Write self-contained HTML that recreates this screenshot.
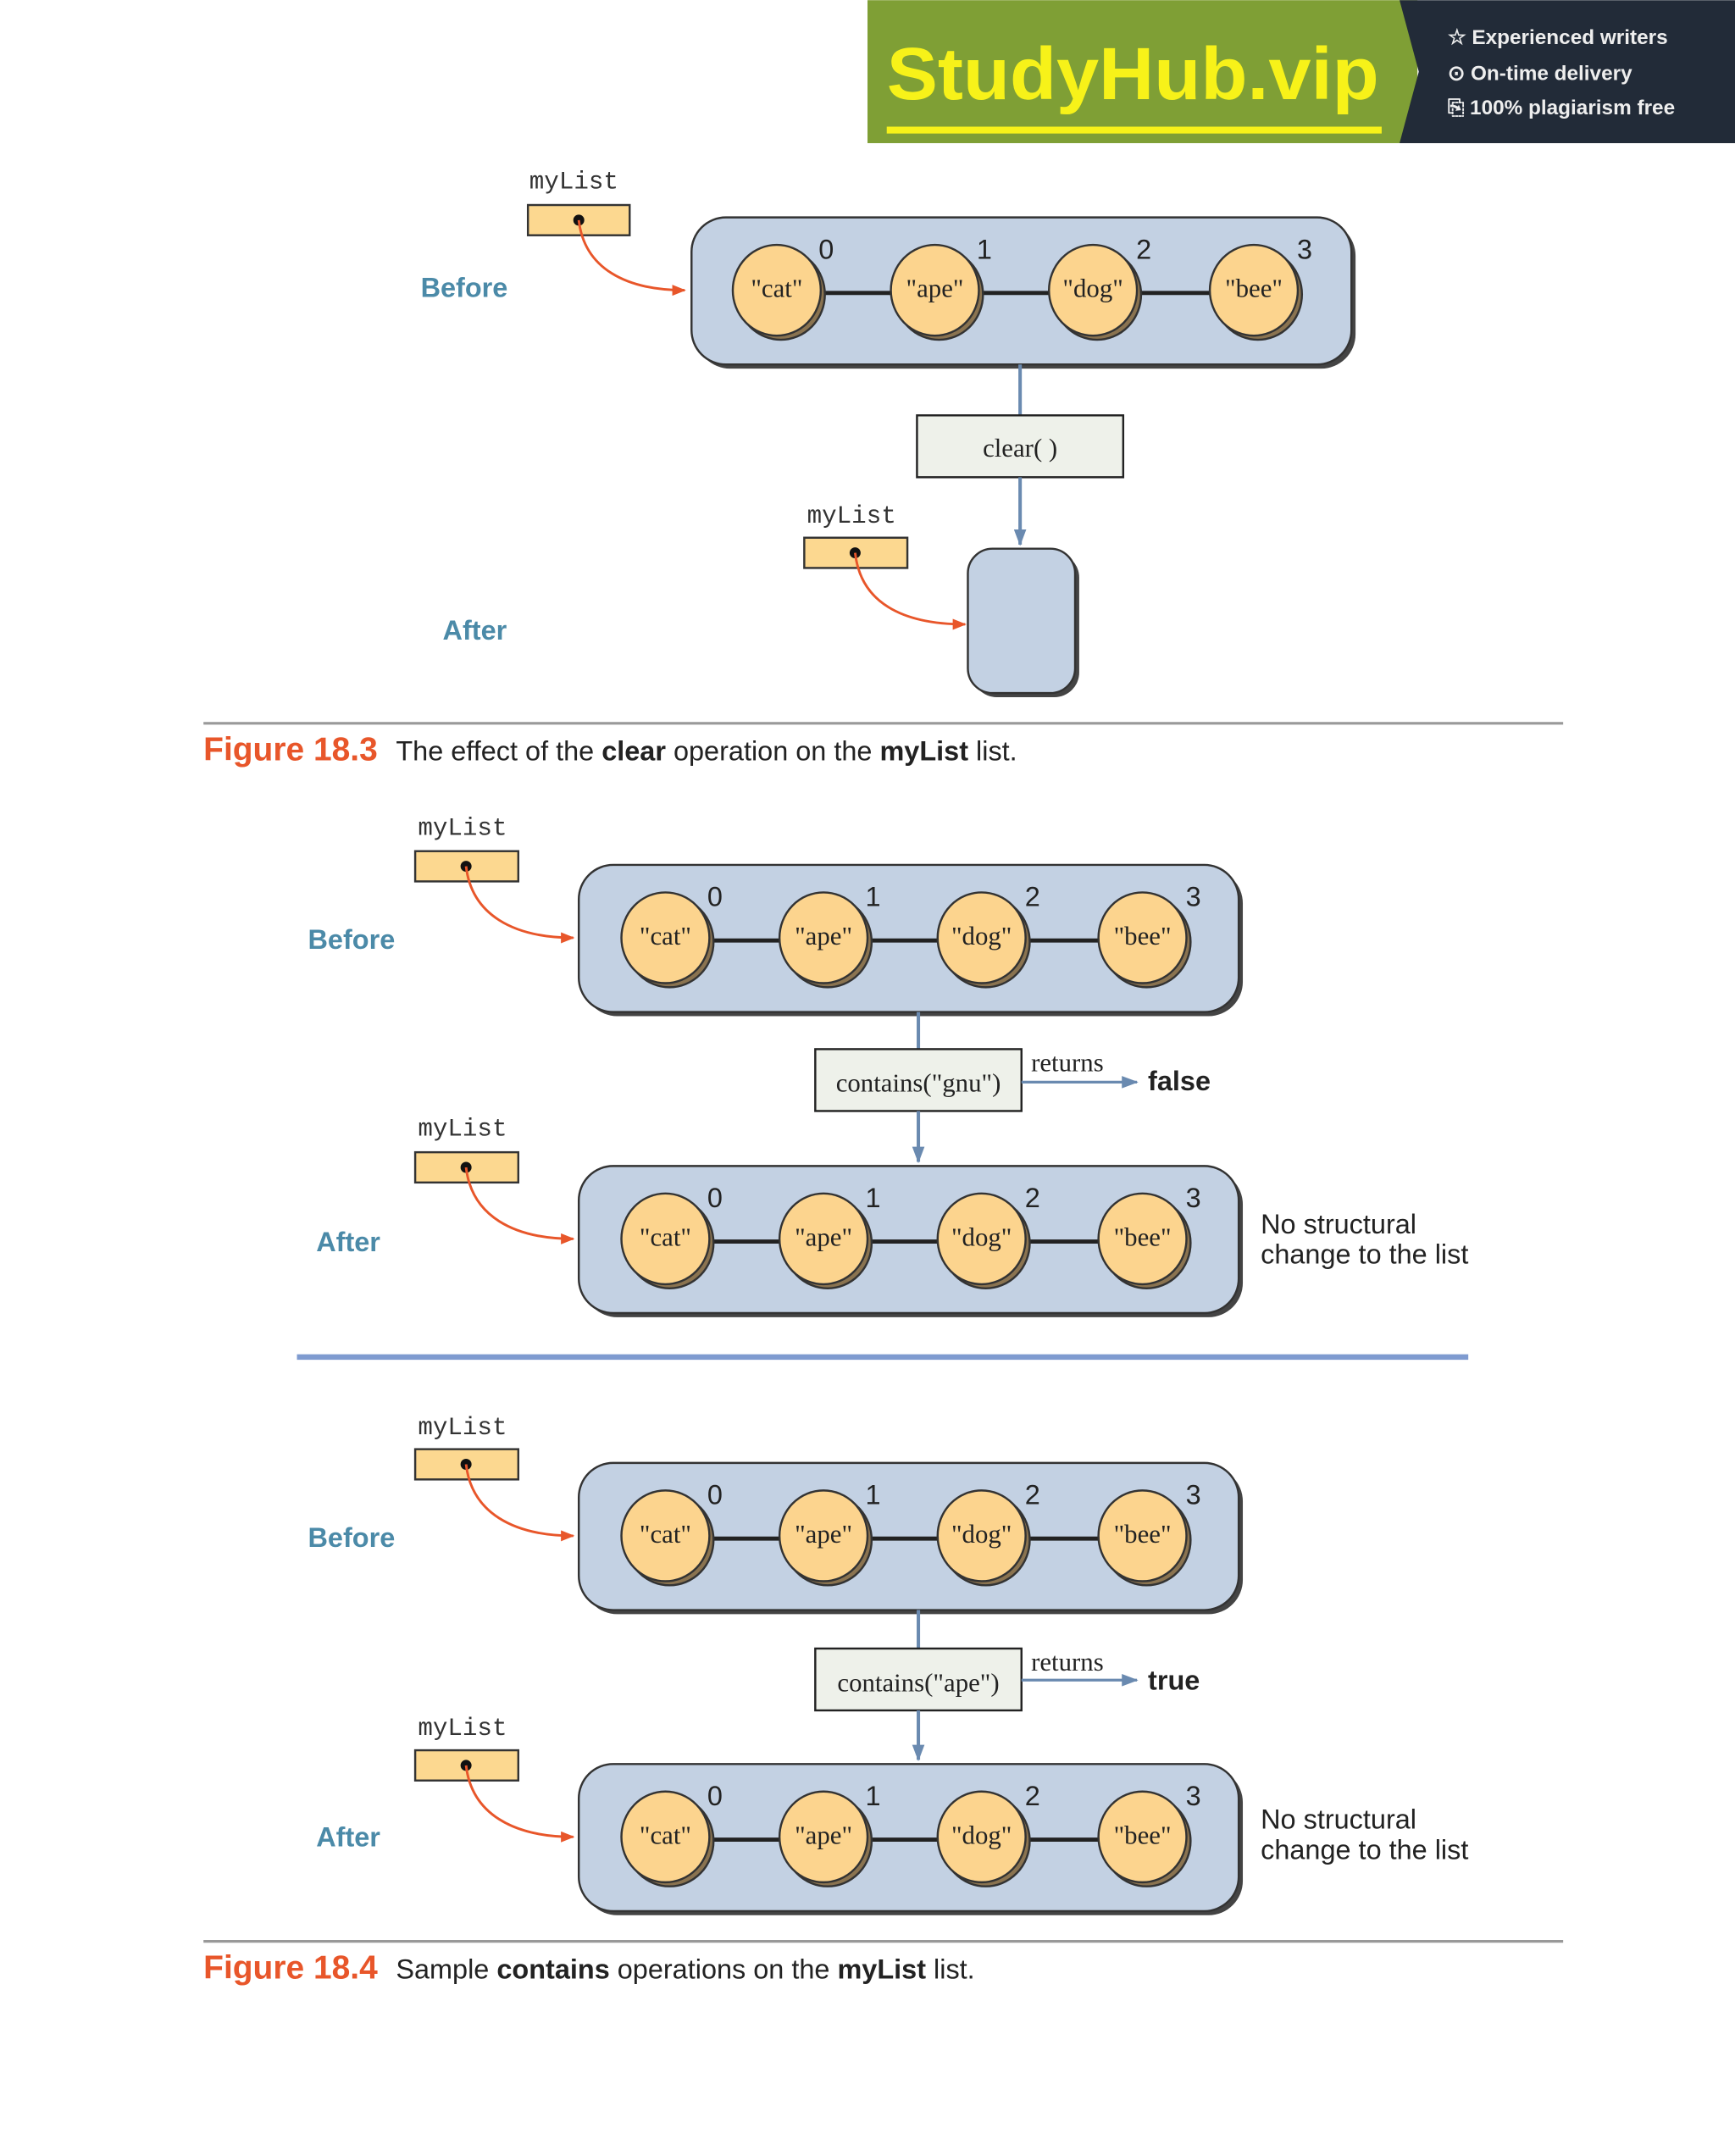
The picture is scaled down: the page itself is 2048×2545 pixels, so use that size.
<!DOCTYPE html>
<html><head><meta charset="utf-8"><style>
html,body{margin:0;padding:0;background:#fff;}
svg{display:block}
.mono{font-family:"Liberation Mono",monospace;font-size:18px;fill:#333}
.lbl{font-family:"Liberation Sans",sans-serif;font-weight:bold;font-size:20px;fill:#4b8aa8}
.idx{font-family:"Liberation Sans",sans-serif;font-size:20px;fill:#222}
.ser{font-family:"Liberation Serif",serif;font-size:19px;fill:#222}
.sans{font-family:"Liberation Sans",sans-serif;font-size:20px;fill:#222}
.cap{font-family:"Liberation Sans",sans-serif;font-size:20px;fill:#222}
.fig{font-family:"Liberation Sans",sans-serif;font-size:24px;font-weight:bold;fill:#e8562a}
</style></head><body>
<svg width="2048" height="2545" viewBox="0 0 1262 1568" xmlns="http://www.w3.org/2000/svg">
<defs>
<marker id="ao" markerWidth="10" markerHeight="8" refX="9" refY="4" orient="auto" markerUnits="userSpaceOnUse"><path d="M0,0 L10,4 L0,8 Z" fill="#e8562a"/></marker>
<marker id="ab" markerWidth="12" markerHeight="9" refX="11" refY="4.5" orient="auto" markerUnits="userSpaceOnUse"><path d="M0,0 L12,4.5 L0,9 Z" fill="#6a8ab0"/></marker>
</defs>
<!-- banner -->
<rect x="631" y="0" width="400" height="104" fill="#7f9f35"/>
<polygon points="1018,0 1262,0 1262,104 1018,104 1032,52" fill="#222b38"/>
<text x="645" y="72" font-family="Liberation Sans,sans-serif" font-weight="bold" font-size="54" fill="#f7f219" textLength="358" lengthAdjust="spacingAndGlyphs">StudyHub.vip</text>
<rect x="645" y="92" width="360" height="5" fill="#f7f219"/>
<g font-family="Liberation Sans,sans-serif" font-weight="bold" font-size="15" fill="#eee">
<text x="1053" y="32">☆ Experienced writers</text>
<text x="1053" y="58">⊙ On-time delivery</text>
<text x="1053" y="83">⎘ 100% plagiarism free</text>
</g>

<!-- Fig 18.3 -->
<text class="mono" x="385" y="137">myList</text>
<rect x="384" y="149" width="74" height="22" fill="#fcd890" stroke="#333" stroke-width="1.5"/>
<circle cx="421" cy="160" r="4" fill="#111"/>
<path d="M421,160 C425,195 455,211 498,211" fill="none" stroke="#e8562a" stroke-width="1.8" marker-end="url(#ao)"/>
<text class="lbl" x="306" y="216">Before</text>
<g transform="translate(503,158)">
<rect x="3" y="3" width="480" height="107" rx="25" fill="#444"/>
<rect x="0" y="0" width="480" height="107" rx="25" fill="#c3d1e3" stroke="#333" stroke-width="1.5"/>
<line x1="62" y1="55" x2="409" y2="55" stroke="#222" stroke-width="3"/>
<g stroke="#333" stroke-width="1.5">
<ellipse cx="65" cy="56" rx="32" ry="33" fill="#8a7350"/><ellipse cx="62" cy="53" rx="32" ry="33" fill="#fcd48e"/>
<ellipse cx="180" cy="56" rx="32" ry="33" fill="#8a7350"/><ellipse cx="177" cy="53" rx="32" ry="33" fill="#fcd48e"/>
<ellipse cx="295" cy="56" rx="32" ry="33" fill="#8a7350"/><ellipse cx="292" cy="53" rx="32" ry="33" fill="#fcd48e"/>
<ellipse cx="412" cy="56" rx="32" ry="33" fill="#8a7350"/><ellipse cx="409" cy="53" rx="32" ry="33" fill="#fcd48e"/>
</g>
<g class="ser" text-anchor="middle"><text x="62" y="58">"cat"</text><text x="177" y="58">"ape"</text><text x="292" y="58">"dog"</text><text x="409" y="58">"bee"</text></g>
<g class="idx" text-anchor="middle"><text x="98" y="30">0</text><text x="213" y="30">1</text><text x="329" y="30">2</text><text x="446" y="30">3</text></g>
</g>
<line x1="742" y1="265" x2="742" y2="302" stroke="#6a8ab0" stroke-width="2.5"/>
<rect x="667" y="302" width="150" height="45" fill="#eef1ea" stroke="#222" stroke-width="1.5"/>
<text class="ser" x="742" y="332" text-anchor="middle">clear( )</text>
<line x1="742" y1="347" x2="742" y2="396" stroke="#6a8ab0" stroke-width="2.5" marker-end="url(#ab)"/>
<text class="mono" x="587" y="380">myList</text>
<rect x="585" y="391" width="75" height="22" fill="#fcd890" stroke="#333" stroke-width="1.5"/>
<circle cx="622" cy="402" r="4" fill="#111"/>
<path d="M622,402 C626,438 656,454 702,454" fill="none" stroke="#e8562a" stroke-width="1.8" marker-end="url(#ao)"/>
<rect x="707" y="402" width="78" height="105" rx="18" fill="#444"/>
<rect x="704" y="399" width="78" height="105" rx="18" fill="#c3d1e3" stroke="#333" stroke-width="1.5"/>
<text class="lbl" x="322" y="465">After</text>
<line x1="148" y1="526" x2="1137" y2="526" stroke="#999" stroke-width="2"/>
<text class="fig" x="148" y="553">Figure 18.3</text>
<text class="cap" x="288" y="553">The effect of the <tspan font-weight="bold">clear</tspan> operation on the <tspan font-weight="bold">myList</tspan> list.</text>

<!-- Fig 18.4 part 1 -->
<g id="p1">
<text class="mono" x="304" y="607">myList</text>
<rect x="302" y="619" width="75" height="22" fill="#fcd890" stroke="#333" stroke-width="1.5"/>
<circle cx="339" cy="630" r="4" fill="#111"/>
<path d="M339,630 C343,665 373,682 417,682" fill="none" stroke="#e8562a" stroke-width="1.8" marker-end="url(#ao)"/>
<text class="lbl" x="224" y="690">Before</text>
</g>
<g transform="translate(421,629)">
<rect x="3" y="3" width="480" height="107" rx="25" fill="#444"/>
<rect x="0" y="0" width="480" height="107" rx="25" fill="#c3d1e3" stroke="#333" stroke-width="1.5"/>
<line x1="62" y1="55" x2="409" y2="55" stroke="#222" stroke-width="3"/>
<g stroke="#333" stroke-width="1.5">
<ellipse cx="66" cy="56" rx="32" ry="33" fill="#8a7350"/><ellipse cx="63" cy="53" rx="32" ry="33" fill="#fcd48e"/>
<ellipse cx="181" cy="56" rx="32" ry="33" fill="#8a7350"/><ellipse cx="178" cy="53" rx="32" ry="33" fill="#fcd48e"/>
<ellipse cx="296" cy="56" rx="32" ry="33" fill="#8a7350"/><ellipse cx="293" cy="53" rx="32" ry="33" fill="#fcd48e"/>
<ellipse cx="413" cy="56" rx="32" ry="33" fill="#8a7350"/><ellipse cx="410" cy="53" rx="32" ry="33" fill="#fcd48e"/>
</g>
<g class="ser" text-anchor="middle"><text x="63" y="58">"cat"</text><text x="178" y="58">"ape"</text><text x="293" y="58">"dog"</text><text x="410" y="58">"bee"</text></g>
<g class="idx" text-anchor="middle"><text x="99" y="30">0</text><text x="214" y="30">1</text><text x="330" y="30">2</text><text x="447" y="30">3</text></g>
</g>
<line x1="668" y1="736" x2="668" y2="763" stroke="#6a8ab0" stroke-width="2.5"/>
<rect x="593" y="763" width="150" height="45" fill="#eef1ea" stroke="#222" stroke-width="1.5"/>
<text class="ser" x="668" y="794" text-anchor="middle">contains("gnu")</text>
<line x1="668" y1="808" x2="668" y2="845" stroke="#6a8ab0" stroke-width="2.5" marker-end="url(#ab)"/>
<text class="ser" x="750" y="779" font-size="18">returns</text>
<line x1="743" y1="787" x2="827" y2="787" stroke="#6a8ab0" stroke-width="2" marker-end="url(#ab)"/>
<text class="sans" x="835" y="793" font-weight="bold">false</text>

<text class="mono" x="304" y="826">myList</text>
<rect x="302" y="838" width="75" height="22" fill="#fcd890" stroke="#333" stroke-width="1.5"/>
<circle cx="339" cy="849" r="4" fill="#111"/>
<path d="M339,849 C343,884 373,901 417,901" fill="none" stroke="#e8562a" stroke-width="1.8" marker-end="url(#ao)"/>
<text class="lbl" x="230" y="910">After</text>
<g transform="translate(421,848)">
<rect x="3" y="3" width="480" height="107" rx="25" fill="#444"/>
<rect x="0" y="0" width="480" height="107" rx="25" fill="#c3d1e3" stroke="#333" stroke-width="1.5"/>
<line x1="62" y1="55" x2="409" y2="55" stroke="#222" stroke-width="3"/>
<g stroke="#333" stroke-width="1.5">
<ellipse cx="66" cy="56" rx="32" ry="33" fill="#8a7350"/><ellipse cx="63" cy="53" rx="32" ry="33" fill="#fcd48e"/>
<ellipse cx="181" cy="56" rx="32" ry="33" fill="#8a7350"/><ellipse cx="178" cy="53" rx="32" ry="33" fill="#fcd48e"/>
<ellipse cx="296" cy="56" rx="32" ry="33" fill="#8a7350"/><ellipse cx="293" cy="53" rx="32" ry="33" fill="#fcd48e"/>
<ellipse cx="413" cy="56" rx="32" ry="33" fill="#8a7350"/><ellipse cx="410" cy="53" rx="32" ry="33" fill="#fcd48e"/>
</g>
<g class="ser" text-anchor="middle"><text x="63" y="58">"cat"</text><text x="178" y="58">"ape"</text><text x="293" y="58">"dog"</text><text x="410" y="58">"bee"</text></g>
<g class="idx" text-anchor="middle"><text x="99" y="30">0</text><text x="214" y="30">1</text><text x="330" y="30">2</text><text x="447" y="30">3</text></g>
</g>
<text class="sans" x="917" y="897">No structural</text>
<text class="sans" x="917" y="919">change to the list</text>

<line x1="216" y1="987" x2="1068" y2="987" stroke="#7f9bd0" stroke-width="4"/>

<!-- part 2 -->
<text class="mono" x="304" y="1043">myList</text>
<rect x="302" y="1054" width="75" height="22" fill="#fcd890" stroke="#333" stroke-width="1.5"/>
<circle cx="339" cy="1065" r="4" fill="#111"/>
<path d="M339,1065 C343,1100 373,1117 417,1117" fill="none" stroke="#e8562a" stroke-width="1.8" marker-end="url(#ao)"/>
<text class="lbl" x="224" y="1125">Before</text>
<g transform="translate(421,1064)">
<rect x="3" y="3" width="480" height="107" rx="25" fill="#444"/>
<rect x="0" y="0" width="480" height="107" rx="25" fill="#c3d1e3" stroke="#333" stroke-width="1.5"/>
<line x1="62" y1="55" x2="409" y2="55" stroke="#222" stroke-width="3"/>
<g stroke="#333" stroke-width="1.5">
<ellipse cx="66" cy="56" rx="32" ry="33" fill="#8a7350"/><ellipse cx="63" cy="53" rx="32" ry="33" fill="#fcd48e"/>
<ellipse cx="181" cy="56" rx="32" ry="33" fill="#8a7350"/><ellipse cx="178" cy="53" rx="32" ry="33" fill="#fcd48e"/>
<ellipse cx="296" cy="56" rx="32" ry="33" fill="#8a7350"/><ellipse cx="293" cy="53" rx="32" ry="33" fill="#fcd48e"/>
<ellipse cx="413" cy="56" rx="32" ry="33" fill="#8a7350"/><ellipse cx="410" cy="53" rx="32" ry="33" fill="#fcd48e"/>
</g>
<g class="ser" text-anchor="middle"><text x="63" y="58">"cat"</text><text x="178" y="58">"ape"</text><text x="293" y="58">"dog"</text><text x="410" y="58">"bee"</text></g>
<g class="idx" text-anchor="middle"><text x="99" y="30">0</text><text x="214" y="30">1</text><text x="330" y="30">2</text><text x="447" y="30">3</text></g>
</g>
<line x1="668" y1="1171" x2="668" y2="1199" stroke="#6a8ab0" stroke-width="2.5"/>
<rect x="593" y="1199" width="150" height="45" fill="#eef1ea" stroke="#222" stroke-width="1.5"/>
<text class="ser" x="668" y="1230" text-anchor="middle">contains("ape")</text>
<line x1="668" y1="1244" x2="668" y2="1280" stroke="#6a8ab0" stroke-width="2.5" marker-end="url(#ab)"/>
<text class="ser" x="750" y="1215" font-size="18">returns</text>
<line x1="743" y1="1222" x2="827" y2="1222" stroke="#6a8ab0" stroke-width="2" marker-end="url(#ab)"/>
<text class="sans" x="835" y="1229" font-weight="bold">true</text>

<text class="mono" x="304" y="1262">myList</text>
<rect x="302" y="1273" width="75" height="22" fill="#fcd890" stroke="#333" stroke-width="1.5"/>
<circle cx="339" cy="1284" r="4" fill="#111"/>
<path d="M339,1284 C343,1319 373,1336 417,1336" fill="none" stroke="#e8562a" stroke-width="1.8" marker-end="url(#ao)"/>
<text class="lbl" x="230" y="1343">After</text>
<g transform="translate(421,1283)">
<rect x="3" y="3" width="480" height="107" rx="25" fill="#444"/>
<rect x="0" y="0" width="480" height="107" rx="25" fill="#c3d1e3" stroke="#333" stroke-width="1.5"/>
<line x1="62" y1="55" x2="409" y2="55" stroke="#222" stroke-width="3"/>
<g stroke="#333" stroke-width="1.5">
<ellipse cx="66" cy="56" rx="32" ry="33" fill="#8a7350"/><ellipse cx="63" cy="53" rx="32" ry="33" fill="#fcd48e"/>
<ellipse cx="181" cy="56" rx="32" ry="33" fill="#8a7350"/><ellipse cx="178" cy="53" rx="32" ry="33" fill="#fcd48e"/>
<ellipse cx="296" cy="56" rx="32" ry="33" fill="#8a7350"/><ellipse cx="293" cy="53" rx="32" ry="33" fill="#fcd48e"/>
<ellipse cx="413" cy="56" rx="32" ry="33" fill="#8a7350"/><ellipse cx="410" cy="53" rx="32" ry="33" fill="#fcd48e"/>
</g>
<g class="ser" text-anchor="middle"><text x="63" y="58">"cat"</text><text x="178" y="58">"ape"</text><text x="293" y="58">"dog"</text><text x="410" y="58">"bee"</text></g>
<g class="idx" text-anchor="middle"><text x="99" y="30">0</text><text x="214" y="30">1</text><text x="330" y="30">2</text><text x="447" y="30">3</text></g>
</g>
<text class="sans" x="917" y="1330">No structural</text>
<text class="sans" x="917" y="1352">change to the list</text>

<line x1="148" y1="1412" x2="1137" y2="1412" stroke="#999" stroke-width="2"/>
<text class="fig" x="148" y="1439">Figure 18.4</text>
<text class="cap" x="288" y="1439">Sample <tspan font-weight="bold">contains</tspan> operations on the <tspan font-weight="bold">myList</tspan> list.</text>
</svg>
</body></html>
